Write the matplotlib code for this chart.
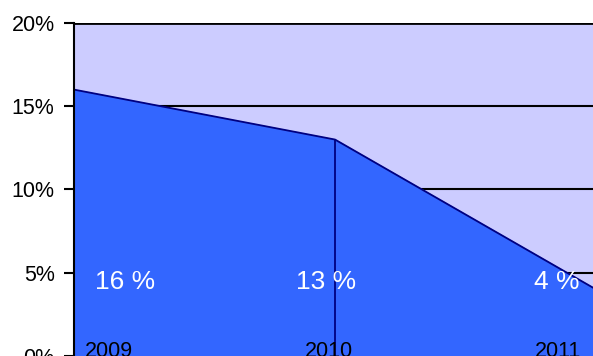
import matplotlib.pyplot as plt
import numpy as np

plt.rcParams['font.family'] = ['Liberation Sans', 'DejaVu Sans']

years = ['2009', '2010', '2011']
rates = [16, 13, 4]          # percent
yticks = [0, 5, 10, 15, 20]

x = np.arange(len(years))

fig = plt.figure(figsize=(5.93, 3.56), dpi=100)
# plot area runs off the right and bottom edges of the figure
ax = fig.add_axes([74 / 593, 0, 522 / 593, 333 / 356])
ax.set_facecolor('#CCCCFF')

# gridlines sit behind the area
for v in yticks[1:]:
    ax.axhline(v, color='black', lw=2.0 if v == 20 else 1.5, zorder=1)

ax.fill_between(x, rates, 0, color='#3366FF', zorder=2)
ax.plot(x, rates, color='#000080', lw=1.3, zorder=3)
ax.vlines(x[1], 0, rates[1], color='#000080', lw=1.3, zorder=3)

ax.set_xlim(0, 2)
ax.set_ylim(0, 20)

# value labels inside the area
lab_x = [0.195, 0.966, 1.85]
for xi, r in zip(lab_x, rates):
    ax.text(xi, 4.45, f'{r} %', color='white', fontsize=19, ha='center', va='center', zorder=4)

# category labels along the bottom
cat_x = [0.134, 0.977, 1.854]
for xi, yr in zip(cat_x, years):
    ax.text(xi, -0.06, yr, color='black', fontsize=15.5, ha='center', va='baseline', zorder=4)

ax.set_yticks(yticks)
ax.set_yticklabels([f'{v}%' for v in yticks], fontsize=15.5)
ax.set_xticks([])
ax.tick_params(axis='y', direction='out', length=7, width=1.5, pad=7)

for s in ['top', 'right', 'bottom']:
    ax.spines[s].set_visible(False)
ax.spines['left'].set_linewidth(1.5)
ax.spines['left'].set_zorder(5)

fig.savefig('out.png', dpi=100)
